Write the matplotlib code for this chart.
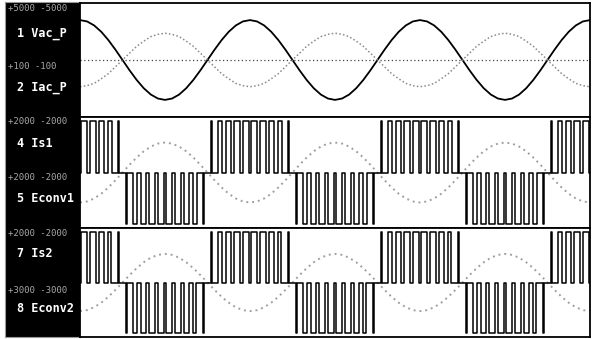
"""Scope capture: grid voltage/current and the two converter legs."""

import matplotlib.pyplot as plt
import numpy as np

# time base of the capture (ms), 24 samples per 20 ms period
t_ms = np.linspace(0, 60, 73)

# channel 1: grid voltage (V)
vac_p = [
    3500, 3381, 3031, 2475, 1750, 906, 0, -906, -1750, -2475, -3031, -3381,
    -3500, -3381, -3031, -2475, -1750, -906, 0, 906, 1750, 2475, 3031, 3381,
    3500, 3381, 3031, 2475, 1750, 906, 0, -906, -1750, -2475, -3031, -3381,
    -3500, -3381, -3031, -2475, -1750, -906, 0, 906, 1750, 2475, 3031, 3381,
    3500, 3381, 3031, 2475, 1750, 906, 0, -906, -1750, -2475, -3031, -3381,
    -3500, -3381, -3031, -2475, -1750, -906, 0, 906, 1750, 2475, 3031, 3381,
    3500,
]

# channel 2: grid current (A), in anti-phase with the voltage
iac_p = [
    -47, -45, -41, -33, -24, -12, 0, 12, 24, 33, 41, 45,
    47, 45, 41, 33, 24, 12, 0, -12, -24, -33, -41, -45,
    -47, -45, -41, -33, -24, -12, 0, 12, 24, 33, 41, 45,
    47, 45, 41, 33, 24, 12, 0, -12, -24, -33, -41, -45,
    -47, -45, -41, -33, -24, -12, 0, 12, 24, 33, 41, 45,
    47, 45, 41, 33, 24, 12, 0, -12, -24, -33, -41, -45,
    -47,
]

# channels 4 / 7: switch currents (noisy arcs)
is1 = [
    -1080, -1043, -935, -764, -540, -280, 0, 280, 540, 764, 935, 1043,
    1080, 1043, 935, 764, 540, 280, 0, -280, -540, -764, -935, -1043,
    -1080, -1043, -935, -764, -540, -280, 0, 280, 540, 764, 935, 1043,
    1080, 1043, 935, 764, 540, 280, 0, -280, -540, -764, -935, -1043,
    -1080, -1043, -935, -764, -540, -280, 0, 280, 540, 764, 935, 1043,
    1080, 1043, 935, 764, 540, 280, 0, -280, -540, -764, -935, -1043,
    -1080,
]
is2 = [
    -1050, -1014, -909, -742, -525, -272, 0, 272, 525, 742, 909, 1014,
    1050, 1014, 909, 742, 525, 272, 0, -272, -525, -742, -909, -1014,
    -1050, -1014, -909, -742, -525, -272, 0, 272, 525, 742, 909, 1014,
    1050, 1014, 909, 742, 525, 272, 0, -272, -525, -742, -909, -1014,
    -1050, -1014, -909, -742, -525, -272, 0, 272, 525, 742, 909, 1014,
    1050, 1014, 909, 742, 525, 272, 0, -272, -525, -742, -909, -1014,
    -1050,
]

# channels 5 / 8: converter PWM voltage
half_cycle_start = [-5, 5, 15, 25, 35, 45, 55]  # ms
half_cycle_sign = [1, -1, 1, -1, 1, -1, 1]
switch_period = 1.0  # ms
duty_econv1 = [0.12, 0.45, 0.6, 0.68, 0.72, 0.72, 0.68, 0.6, 0.45, 0.12]
duty_econv2 = [0.15, 0.5, 0.62, 0.7, 0.72, 0.72, 0.66, 0.55, 0.4, 0.1]
econv_level = 1850

channel_labels = ["1 Vac_P", "2 Iac_P", "4 Is1", "5 Econv1", "7 Is2", "8 Econv2"]
range_labels = ["+5000 -5000", "+100 -100", "+2000 -2000",
                "+2000 -2000", "+2000 -2000", "+3000 -3000"]
vac_range, iac_range, leg_range = 5000, 100, 2000


def pwm_trace(duty):
    xs, ys = [0.0], [0.0]
    for start, sign in zip(half_cycle_start, half_cycle_sign):
        for j, d in enumerate(duty):
            mid = start + (j + 0.5) * switch_period
            a, b = mid - d * switch_period / 2, mid + d * switch_period / 2
            xs += [a, a, b, b]
            ys += [0, sign * econv_level, sign * econv_level, 0]
    return xs, ys


fig = plt.figure(figsize=(5.93, 3.39), dpi=100)

# black channel panel on the left
lab = fig.add_axes([0.0084, 0.0059, 0.1265, 0.9882])
lab.set_facecolor("black")
lab.set_xticks([])
lab.set_yticks([])
for s in lab.spines.values():
    s.set_color("#9a9a9a")
label_y = [0.907, 0.746, 0.579, 0.412, 0.248, 0.084]
range_y = [0.982, 0.806, 0.642, 0.475, 0.310, 0.140]
for name, rng, ly, ry in zip(channel_labels, range_labels, label_y, range_y):
    lab.text(0.16, ly, name, color="white", family="DejaVu Sans Mono",
             fontsize=8.5, fontweight="bold", va="center", ha="left")
    lab.text(0.04, ry, rng, color="#a8a8a8", family="DejaVu Sans Mono",
             fontsize=6.5, va="center", ha="left")

# plot panels
ax1 = fig.add_axes([0.1349, 0.6549, 0.86, 0.3363])
ax2 = fig.add_axes([0.1349, 0.3274, 0.86, 0.3274])
ax3 = fig.add_axes([0.1349, 0.0059, 0.86, 0.3215])

ax1.plot(t_ms, vac_p, color="black", lw=1.3)
ax1.plot(t_ms, np.array(iac_p) * vac_range / iac_range, color="#8a8a8a",
         lw=1.1, ls=(0, (1, 1.5)))
ax1.axhline(0, color="#444444", lw=0.9, ls=(0, (1, 2)))
ax1.set_ylim(-vac_range, vac_range)

for ax, cur, duty in [(ax2, is1, duty_econv1), (ax3, is2, duty_econv2)]:
    xs, ys = pwm_trace(duty)
    ax.plot(t_ms, cur, color="#a0a0a0", lw=1.4, ls=(0, (1, 2)))
    ax.plot(xs, ys, color="black", lw=1.1)
    ax.set_ylim(-leg_range, leg_range)

for ax in (ax1, ax2, ax3):
    ax.set_xlim(0, 60)
    ax.set_xticks([])
    ax.set_yticks([])
    for s in ax.spines.values():
        s.set_linewidth(1.3)
        s.set_color("black")

fig.savefig("out.png", dpi=100)
